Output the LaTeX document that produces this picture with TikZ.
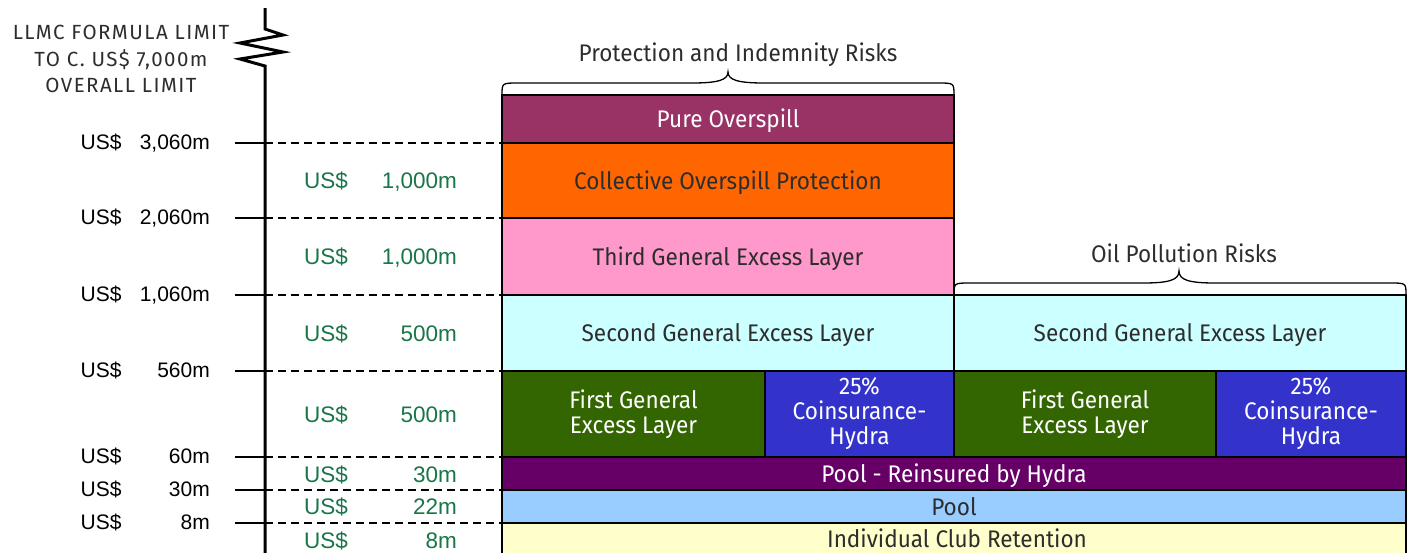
\documentclass[tikz,border=0pt]{standalone}
\usepackage{fontspec}
\setmainfont{Fira Sans}
\newfontfamily\boxfont[FakeStretch=0.94]{Fira Sans}
\newfontfamily\labelfont{Liberation Sans}
\definecolor{overspill}{RGB}{153,51,102}
\definecolor{collective}{RGB}{255,102,0}
\definecolor{thirdlayer}{RGB}{255,153,204}
\definecolor{secondlayer}{RGB}{204,255,255}
\definecolor{firstlayer}{RGB}{51,102,0}
\definecolor{coins}{RGB}{51,51,204}
\definecolor{poolre}{RGB}{102,0,102}
\definecolor{pool}{RGB}{153,204,255}
\definecolor{retention}{RGB}{255,255,204}
\definecolor{amount}{RGB}{25,118,72}
\definecolor{darktext}{RGB}{45,45,45}
\tikzset{
  multibox/.style={draw=black, line width=1.3pt, inner sep=0pt, outer sep=0pt,
    align=center, font=\boxfont\fontsize{24}{25}\selectfont},
  layerbox/.style={multibox, text height=17.6pt, text depth=0pt},
  darkbox/.style={layerbox, text=white},
  lightbox/.style={layerbox, text=darktext},
  darkmulti/.style={multibox, text=white},
  axisline/.style={line width=3pt},
  tickline/.style={line width=2.6pt},
  levelline/.style={line width=1.1pt, dash pattern=on 8pt off 5pt},
  bracepath/.style={line width=1.3pt},
  blacklabel/.style={font=\labelfont\fontsize{21}{24}\selectfont, inner sep=0pt,
    text=black, text height=15pt, text depth=0pt},
  greenlabel/.style={font=\labelfont\fontsize{22.5}{26}\selectfont, inner sep=0pt,
    text=amount, text height=16.1pt, text depth=0pt},
  headlabel/.style={font=\boxfont\fontsize{24}{26}\selectfont, text=darktext, inner sep=0pt,
    text height=16.6pt, text depth=0pt},
}
\begin{document}
\begin{tikzpicture}[x=1pt,y=-1pt]
\useasboundingbox (0,0) rectangle (1409,552);

% Protection and indemnity column
\node[darkbox, fill=overspill, minimum width=452pt, minimum height=48pt] (pure) at (728,119) {Pure Overspill};
\node[lightbox, fill=collective, minimum width=452pt, minimum height=75pt] (cop) at (728,180.5) {Collective Overspill Protection};
\node[lightbox, fill=thirdlayer, minimum width=452pt, minimum height=77pt] (third) at (728,256.5) {Third General Excess Layer};
\node[lightbox, fill=secondlayer, minimum width=452pt, minimum height=76pt] (secondA) at (728,333) {Second General Excess Layer};
\node[darkmulti, fill=firstlayer, minimum width=263pt, minimum height=86pt] (firstA) at (633.5,414) {First General\\Excess Layer};
\node[darkmulti, fill=coins, minimum width=189pt, minimum height=86pt] (coinsA) at (859.5,414) {25\%\\Coinsurance-\\Hydra};

% Oil pollution column
\node[lightbox, fill=secondlayer, minimum width=452pt, minimum height=76pt] (secondB) at (1180,333) {Second General Excess Layer};
\node[darkmulti, fill=firstlayer, minimum width=262pt, minimum height=86pt] (firstB) at (1085,414) {First General\\Excess Layer};
\node[darkmulti, fill=coins, minimum width=190pt, minimum height=86pt] (coinsB) at (1311,414) {25\%\\Coinsurance-\\Hydra};

% Shared lower layers
\node[darkbox, fill=poolre, minimum width=904pt, minimum height=33pt] (poolre) at (954,473.5) {Pool - Reinsured by Hydra};
\node[lightbox, fill=pool, minimum width=904pt, minimum height=33pt] (pool) at (954,506.5) {Pool};
\node[lightbox, fill=retention, minimum width=904pt, minimum height=36pt] (retention) at (954,541) {};
\node[lightbox, draw=none] (retentiontext) at (957,539) {Individual Club Retention};

% Braces and column headings
\draw[bracepath] (502,95) .. controls (502,83) .. (518,83) -- (692,83)
  .. controls (718,83) and (728,80) .. (728,72)
  .. controls (728,80) and (738,83) .. (764,83) -- (938,83)
  .. controls (954,83) .. (954,95);
\node[headlabel] (pihead) at (738,53.5) {Protection and Indemnity Risks};
\draw[bracepath] (954,295) .. controls (954,283) .. (970,283) -- (1143,283)
  .. controls (1169,283) and (1179,280) .. (1179,271)
  .. controls (1179,280) and (1189,283) .. (1215,283) -- (1390,283)
  .. controls (1406,283) .. (1406,295);
\node[headlabel] (ophead) at (1184,254.5) {Oil Pollution Risks};

% Vertical scale with break mark
\coordinate (axtop) at (265,8);
\coordinate (axbot) at (265,560);
\draw[axisline] (axtop) -- (265,29) -- (283,35) -- (240,43) -- (283,52) -- (240,59) -- (265,66) -- (axbot);

\node[align=center, text=darktext, inner sep=0pt,
      font=\fontsize{20.5}{26.5}\selectfont\addfontfeature{LetterSpace=7}] (llmc) at (121,59)
  {LLMC FORMULA LIMIT\\TO C. US\$ 7,000m\\OVERALL LIMIT};

% Ticks, level lines and cumulative amounts
\foreach \yy/\amt/\nm in {143/{3,060m}/a, 218/{2,060m}/b, 295/{1,060m}/c, 371/{560m}/d, 457/{60m}/e, 490/{30m}/f, 523/{8m}/g}{
  \coordinate (tick\nm) at (235,\yy);
  \coordinate (axis\nm) at (265,\yy);
  \coordinate (edge\nm) at (502,\yy);
  \draw[tickline] (tick\nm) -- (axis\nm);
  \draw[levelline] (axis\nm) -- (edge\nm);
  \node[blacklabel, anchor=west] (cur\nm) at (80.5,\yy-1) {US\$};
  \node[blacklabel, anchor=east] (val\nm) at (210,\yy-1) {\amt};
}

% Layer amounts
\foreach \yy/\amt/\nm in {180.5/{1,000m}/a, 256.5/{1,000m}/b, 333/{500m}/c, 414/{500m}/d, 474/{30m}/e, 506.5/{22m}/f, 540/{8m}/g}{
  \node[greenlabel, anchor=west] (lcur\nm) at (304,\yy) {US\$};
  \node[greenlabel, anchor=east] (lval\nm) at (457,\yy) {\amt};
}
\end{tikzpicture}
\end{document}
